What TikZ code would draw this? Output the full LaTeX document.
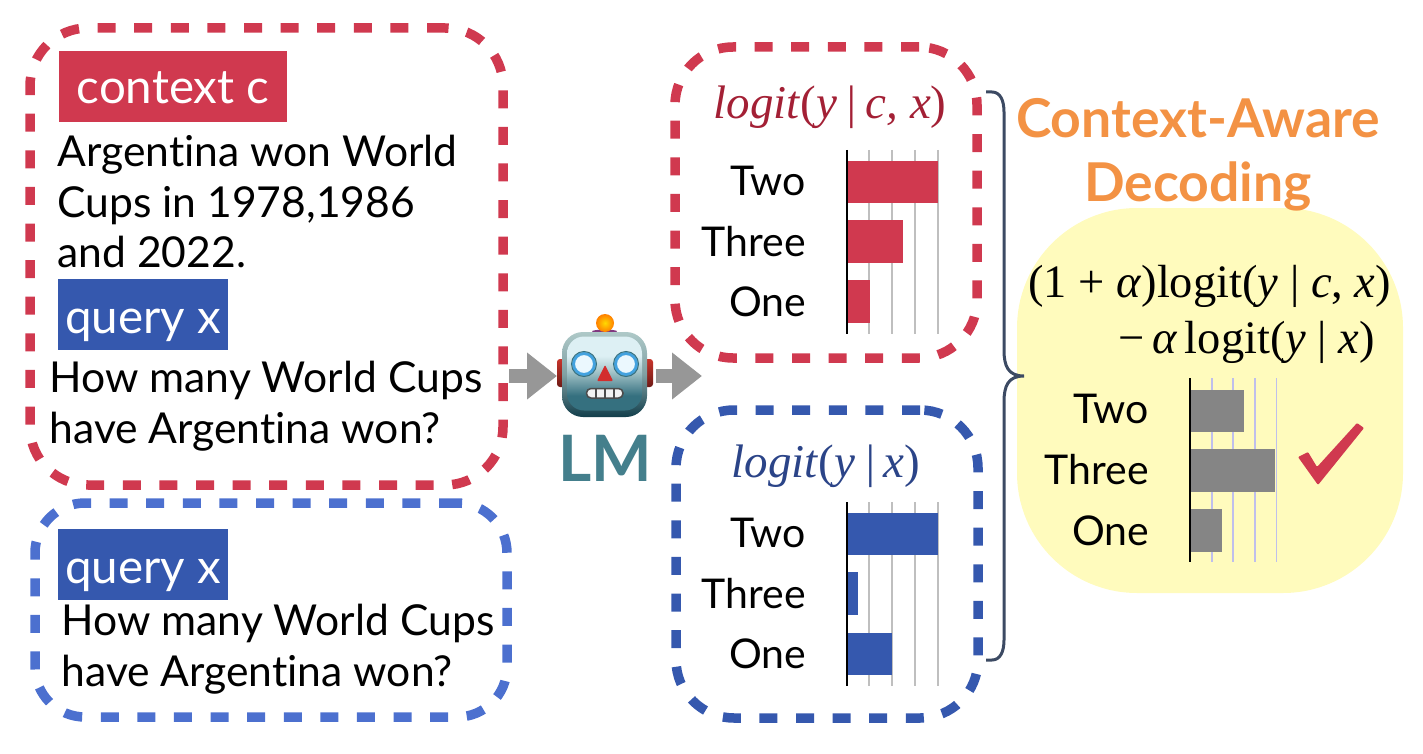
\documentclass[tikz,border=0pt]{standalone}
\usepackage{fontspec}
\setmainfont{Lato}[Ligatures=NoCommon]
\newfontfamily\timesfont{Liberation Serif}
\usetikzlibrary{arrows.meta}
\definecolor{ctxred}{HTML}{D0394F}
\definecolor{qryblue}{HTML}{3558AE}
\definecolor{qrylight}{HTML}{4C70CF}
\definecolor{logitred}{HTML}{A32035}
\definecolor{logitblue}{HTML}{2B4488}
\definecolor{awareorange}{HTML}{F39244}
\definecolor{blobyellow}{HTML}{FFFBBD}
\definecolor{lmteal}{HTML}{447F8C}
\definecolor{bargray}{HTML}{858585}
\definecolor{bracenavy}{HTML}{3C4A63}
\definecolor{rimtop}{HTML}{AEC9C8}
\definecolor{rimbot}{HTML}{123E4B}
\definecolor{facetop}{HTML}{DDF0F4}
\definecolor{facemid}{HTML}{A9C8CC}
\definecolor{facelow}{HTML}{35707F}
\definecolor{earred}{HTML}{C8352B}
\definecolor{eardark}{HTML}{6E1A16}
\pgfdeclareverticalshading{robotface}{100bp}{color(0bp)=(facelow); color(25bp)=(facelow);
	color(35bp)=(facelow); color(52bp)=(facemid); color(62bp)=(facetop); color(75bp)=(facetop); color(100bp)=(facetop)}
\tikzset{x=1pt,y=-1pt,
	every node/.style={inner sep=0pt,outer sep=0pt},
	bigtext/.style={anchor=base west,font=\fontsize{42.6}{48}\selectfont},
	choice/.style={anchor=base east,font=\fontsize{41}{48}\selectfont},
	dashbox/.style={draw=#1,line width=9.5pt,rounded corners=58pt,dash pattern=on 18pt off 18.6pt},
	tagbox/.style={fill=#1,minimum height=71pt},
	tagtext/.style={anchor=base,text=white,font=\fontsize{47.5}{54}\selectfont},
	logitlabel/.style={text=#1,font=\timesfont\itshape\fontsize{47}{54}\selectfont},
	formula/.style={anchor=base east,font=\timesfont\fontsize{46.5}{52}\selectfont},
	titletext/.style={anchor=base,text=awareorange,font=\bfseries\fontsize{53.5}{60}\selectfont},
	grayarrow/.style={draw=bargray!85!white,line width=14pt,-{Triangle[length=30pt,width=45pt]}},
	gridline/.style={draw=black!25,line width=1.2pt},
	axisline/.style={draw=black,line width=2pt},
	robotear/.style={top color=earred,bottom color=eardark,rounded corners=3pt,minimum width=14pt,minimum height=28pt},
	}

\begin{document}
\begin{tikzpicture}
\useasboundingbox (0,0) rectangle (1423,754);
% boxes on the left
\node[dashbox=ctxred,minimum width=473pt,minimum height=457pt] (ctxbox) at (266.5,256.5) {};
\node[dashbox=qrylight,minimum width=472pt,minimum height=214pt,rounded corners=50pt] (qrybox) at (271,610) {};
\node[tagbox=ctxred,minimum width=228pt] (ctxtag) at (173,86.5) {};
\node[tagbox=qryblue,minimum width=170pt] (qrytag) at (143,314.5) {};
\node[tagbox=qryblue,minimum width=170pt] (qrytagb) at (143,564.5) {};
\node[tagtext] (ctxword) at (ctxtag.center |- 0,104) {context c};
\node[tagtext] (qryword) at (qrytag.center |- 0,333) {query x};
\node[tagtext] (qrywordb) at (qrytagb.center |- 0,583) {query x};
\node[bigtext] (ctxa) at (57.5,167) {Argentina won World};
\node[bigtext] (ctxb) at (57.5,217) {Cups in 1978,1986};
\node[bigtext] (ctxc) at (57.5,267) {and 2022.};
\node[bigtext] (qrya) at (49.5,392) {How many World Cups};
\node[bigtext] (qryb) at (49.5,443) {have Argentina won?};
\node[bigtext] (qryc) at (61.5,635) {How many World Cups};
\node[bigtext] (qryd) at (61.5,686) {have Argentina won?};
% robot
\node[robotear] (leftear) at (564,373) {};
\node[robotear] (rightear) at (646,373) {};
\fill[violet!55!gray] (592,331) .. controls (598,329) and (612,329) .. (617,331) .. controls (615,339) and (595,339) .. (592,331);
\node[circle,minimum size=18pt,inner color=yellow!70!orange,outer color=orange] (lamp) at (605,323) {};
\node[rounded corners=21pt,minimum width=85pt,minimum height=85pt,top color=rimtop,bottom color=rimbot,middle color=rimtop!70!rimbot] (robot) at (604.5,374.5) {};
\node[rounded corners=17pt,minimum width=75pt,minimum height=74pt,shading=robotface] (robotinner) at (604.5,373.5) {};
\foreach \ex in {584,626}{
	\draw[cyan!70!white!80!blue,line width=3pt,fill=white!92!cyan] (\ex,364) circle (10.5pt);
	\draw[facelow,line width=1pt] (\ex,364) circle (12.5pt);
}
\fill[red!65!gray,rounded corners=1pt] (605,365) -- (613,381) -- (597,381) -- cycle;
\draw[black!70,line width=1.5pt,fill=white!90!gray,rounded corners=4.5pt] (586.5,388.5) rectangle (623,398);
\foreach \tx in {596,605,614}{
	\draw[black!70,line width=1.2pt] (\tx,388.5) -- (\tx,398);
}
\node[anchor=base,text=lmteal,font=\bfseries\fontsize{64}{70}\selectfont] (lm) at (605,481) {LM};
\coordinate (arrowrow) at (605,376);
\coordinate (arrowend) at (702,376);
\draw[grayarrow] ([xshift=6pt]ctxbox.east |- arrowrow) -- (555,376 -| leftear.west);
\draw[grayarrow] ([xshift=3pt]rightear.east |- arrowrow) -- (arrowend);
% upper chart
\node[dashbox=ctxred,minimum width=302pt,minimum height=311pt] (redbox) at (826,202.5) {};
\node[logitlabel=logitred] (redlogit) at (830,107) {logit\textup{(}y\,|\,c, x\textup{)}};
\foreach \gx in {869,892,915,938}{
	\draw[gridline] (\gx,150) -- (\gx,334);
}
\fill[ctxred] (847,161) rectangle (938,203);
\fill[ctxred] (847,220) rectangle (903,263);
\fill[ctxred] (847,280) rectangle (870,323);
\draw[axisline] (847,150) -- (847,334);
\node[choice] (redtwo) at (806,195) {Two};
\node[choice] (redthree) at (806,256) {Three};
\node[choice] (redone) at (806,316) {One};
% lower chart
\node[dashbox=qryblue,minimum width=302pt,minimum height=308pt] (bluebox) at (827,564) {};
\node[logitlabel=logitblue] (bluelogit) at (826,466) {logit\textup{(}y\,|\,x\textup{)}};
\foreach \gx in {869,892,915,938}{
	\draw[gridline] (\gx,502) -- (\gx,686);
}
\fill[qryblue] (847,513) rectangle (938,555);
\fill[qryblue] (847,572) rectangle (858,615);
\fill[qryblue] (847,633) rectangle (892,675);
\draw[axisline] (847,502) -- (847,686);
\node[choice] (bluetwo) at (806,547) {Two};
\node[choice] (bluethree) at (806,608) {Three};
\node[choice] (blueone) at (806,668) {One};
% result
\node[fill=blobyellow,rounded corners=120pt,minimum width=386pt,minimum height=385pt] (blob) at (1210,400.5) {};
\coordinate (bracetop) at (986,92);
\coordinate (bracetip) at (1024,376);
\coordinate (bracebot) at (986,660);
\draw[bracenavy,line width=3pt] (bracetop) -- (992,92) .. controls (1000,92) and (1004,100) .. (1004,112) -- (1004,350)
	.. controls (1004,366) and (1008,376) .. (bracetip) .. controls (1008,376) and (1004,386) .. (1004,402) -- (1004,640)
	.. controls (1004,652) and (1000,660) .. (992,660) -- (bracebot);
\node[titletext] (titlea) at (1198,138) {Context-Aware};
\node[titletext] (titleb) at (1198,201) {Decoding};
\node[formula] (forma) at (1391,297) {(1 + \textit{α})logit(\textit{y} | \textit{c}, \textit{x})};
\node[formula] (formb) at (1375,353) {−\,\textit{α}\,logit(\textit{y} | \textit{x})};
\foreach \gx in {1212,1233,1255,1276.5}{
	\draw[gridline,draw=black!30!blue!25!white] (\gx,378) -- (\gx,562);
}
\fill[bargray] (1190,390) rectangle (1244,432);
\fill[bargray] (1190,449) rectangle (1275,492);
\fill[bargray] (1190,509) rectangle (1222,552);
\draw[axisline] (1190,378) -- (1190,562);
\node[choice] (sumtwo) at (1149,423) {Two};
\node[choice] (sumthree) at (1149,484) {Three};
\node[choice] (sumone) at (1149,545) {One};
\fill[ctxred,rounded corners=1pt] (1298,457) -- (1308,452) -- (1317,467) -- (1357,423) -- (1364,428) -- (1318,485) -- cycle;
\end{tikzpicture}
\end{document}
